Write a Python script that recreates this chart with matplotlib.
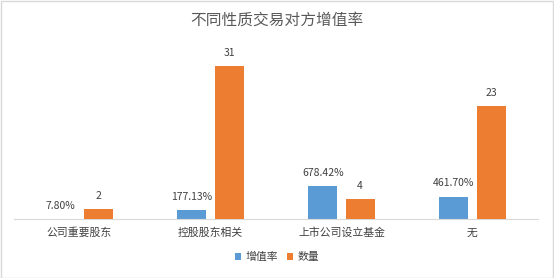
import matplotlib
matplotlib.use("Agg")
import matplotlib.pyplot as plt
import numpy as np

plt.rcParams['font.family'] = ['Noto Sans CJK SC', 'DejaVu Sans']

categories = ['公司重要股东', '控股股东相关', '上市公司设立基金', '无']
rate_pct = [7.80, 177.13, 678.42, 461.70]
count = [2, 31, 4, 23]
series_names = ['增值率', '数量']

blue = '#5B9BD5'
orange = '#ED7D31'
text_c = '#404040'

fig = plt.figure(figsize=(5.54, 2.78), dpi=100)
fig.patch.set_facecolor('white')

ax = fig.add_axes([14/554, (278-219)/278, 524/554, 179/278])
ax2 = ax.twinx()

x = np.arange(len(categories))
w = 0.22
off = 0.143

b1 = ax.bar(x - off, rate_pct, w, color=blue, label=series_names[0])
b2 = ax2.bar(x + off, count, w, color=orange, label=series_names[1])

ax.set_xlim(-0.5, len(categories) - 0.5)
ax.set_ylim(0, 3680)
ax2.set_ylim(0, 36.3)

for a in (ax, ax2):
    for s in a.spines.values():
        s.set_visible(False)
    a.set_yticks([])
ax.spines['bottom'].set_visible(True)
ax.spines['bottom'].set_color('#D9D9D9')
ax.spines['bottom'].set_linewidth(0.8)
ax.tick_params(axis='x', length=0, pad=6, labelsize=7.8, labelcolor=text_c)
ax.set_xticks(x)
ax.set_xticklabels(categories)

for xi, v in zip(x, rate_pct):
    ax.annotate(f'{v:.2f}%', (xi - off, v), xytext=(0, 9.4), textcoords='offset points',
                ha='center', va='center', fontsize=7.5, color=text_c)
for xi, v in zip(x, count):
    ax2.annotate(f'{v}', (xi + off, v), xytext=(0, 9.4), textcoords='offset points',
                 ha='center', va='center', fontsize=7.5, color=text_c)

fig.text(0.5, 1 - 20/278, '不同性质交易对方增值率', ha='center', va='center',
         fontsize=11.3, color='#595959')

handles = [b1, b2]
fig.legend(handles, series_names, loc='center', bbox_to_anchor=(0.5, 1 - 257/278),
           ncol=2, frameon=False, fontsize=7.8, handlelength=0.6, handleheight=0.6,
           handletextpad=0.4, columnspacing=0.8, labelcolor=text_c)

# chart border
fig.add_artist(plt.Rectangle((0.5/554, 0.5/278), 1 - 1.5/554, 1 - 1.5/278,
                             transform=fig.transFigure, fill=False,
                             edgecolor='#D9D9D9', linewidth=1))

fig.savefig('out.png', dpi=100, facecolor='white')
